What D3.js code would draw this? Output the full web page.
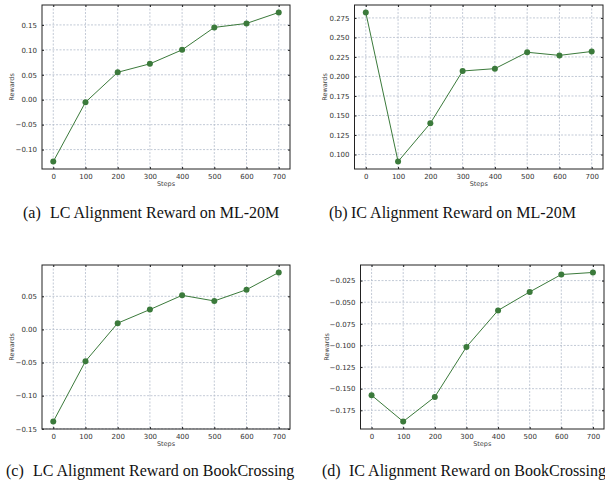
<!DOCTYPE html>
<html><head><meta charset="utf-8">
<script src="https://cdn.jsdelivr.net/npm/d3@7"></script>
<style>body{margin:0;background:#fff}svg{display:block}</style>
</head><body>
<svg id="c" width="605" height="493"></svg>
<script>
const steps = [0, 100, 200, 300, 400, 500, 600, 700];
const lcML = [-0.124, -0.005, 0.055, 0.072, 0.100, 0.145, 0.153, 0.175];
const icML = [0.282, 0.091, 0.140, 0.207, 0.210, 0.231, 0.227, 0.232];
const lcBC = [-0.139, -0.048, 0.0095, 0.030, 0.0515, 0.043, 0.060, 0.086];
const icBC = [-0.1576, -0.188, -0.1595, -0.1017, -0.0595, -0.0381, -0.018, -0.0156];
const xTicks = [0, 100, 200, 300, 400, 500, 600, 700];
const yTicksA = [-0.10, -0.05, 0.00, 0.05, 0.10, 0.15];
const yTicksB = [0.100, 0.125, 0.150, 0.175, 0.200, 0.225, 0.250, 0.275];
const yTicksC = [-0.15, -0.10, -0.05, 0.00, 0.05];
const yTicksD = [-0.175, -0.150, -0.125, -0.100, -0.075, -0.050, -0.025];
const captionLetters = ["(a)", "(b)", "(c)", "(d)"];
const captions = ["LC Alignment Reward on ML-20M", "IC Alignment Reward on ML-20M",
  "LC Alignment Reward on BookCrossing", "IC Alignment Reward on BookCrossing"];

const svg = d3.select("#c");
const green = "#3b7a3b";

const panels = [
  {vals: lcML, ticks: yTicksA, fmt: d3.format(".2f"), box: [42, 5, 290, 169], cap: [23, 50, 218]},
  {vals: icML, ticks: yTicksB, fmt: d3.format(".3f"), box: [354.5, 5, 603, 169], cap: [329, 351, 218]},
  {vals: lcBC, ticks: yTicksC, fmt: d3.format(".2f"), box: [42, 265, 290, 429], cap: [6, 33, 476]},
  {vals: icBC, ticks: yTicksD, fmt: d3.format(".3f"), box: [360.5, 265, 604, 429], cap: [322, 349, 476]}
];

function minus(s){ return s.replace("-", "\u2212"); }

panels.forEach((p, i) => {
  const [x0, y0, x1, y1] = p.box;
  const xr = 700 * 0.05;
  const ymin = d3.min(p.vals), ymax = d3.max(p.vals), ym = (ymax - ymin) * 0.05;
  const x = d3.scaleLinear().domain([-xr, 700 + xr]).range([x0, x1]);
  const y = d3.scaleLinear().domain([ymin - ym, ymax + ym]).range([y1, y0]);
  const g = svg.append("g");

  // grid
  g.selectAll(".gx").data(xTicks).join("line")
    .attr("x1", d => x(d)).attr("x2", d => x(d)).attr("y1", y0).attr("y2", y1)
    .attr("stroke", "#b4bccb").attr("stroke-width", 0.8).attr("stroke-dasharray", "2,1.5");
  g.selectAll(".gy").data(p.ticks).join("line")
    .attr("x1", x0).attr("x2", x1).attr("y1", d => y(d)).attr("y2", d => y(d))
    .attr("stroke", "#b4bccb").attr("stroke-width", 0.8).attr("stroke-dasharray", "2,1.5");

  // axes (inward ticks on all sides)
  const fs = "7px";
  const ax = g.append("g").attr("transform", `translate(0,${y1})`)
    .call(d3.axisBottom(x).tickValues(xTicks).tickSizeInner(-2).tickSizeOuter(0).tickPadding(5));
  const ay = g.append("g").attr("transform", `translate(${x0},0)`)
    .call(d3.axisLeft(y).tickValues(p.ticks).tickFormat(d => minus(p.fmt(d))).tickSizeInner(-2).tickSizeOuter(0).tickPadding(5));
  const at = g.append("g").attr("transform", `translate(0,${y0})`)
    .call(d3.axisTop(x).tickValues(xTicks).tickSizeInner(-2).tickSizeOuter(0).tickFormat(""));
  const ar = g.append("g").attr("transform", `translate(${x1},0)`)
    .call(d3.axisRight(y).tickValues(p.ticks).tickSizeInner(-2).tickSizeOuter(0).tickFormat(""));
  [ax, ay, at, ar].forEach(a => {
    a.select(".domain").remove();
    a.selectAll("line").attr("stroke", "#222").attr("stroke-width", 1);
    a.selectAll("text").attr("font-family", "DejaVu Sans").attr("font-size", fs).attr("fill", "#333");
  });

  // frame
  g.append("rect").attr("x", x0).attr("y", y0).attr("width", x1 - x0).attr("height", y1 - y0)
    .attr("fill", "none").attr("stroke", "#222").attr("stroke-width", 1);

  // labels
  g.append("text").attr("x", (x0 + x1) / 2).attr("y", y1 + 17).attr("text-anchor", "middle")
    .attr("font-family", "DejaVu Sans").attr("font-size", "6.5px").attr("fill", "#444").text("Steps");
  const lx = i % 2 === 0 ? 12 : (i === 1 ? 325 : 327);
  g.append("text").attr("transform", `translate(${lx},${(y0 + y1) / 2}) rotate(-90)`)
    .attr("text-anchor", "middle").attr("dominant-baseline", "middle")
    .attr("font-family", "DejaVu Sans").attr("font-size", "6.5px").attr("fill", "#444").text("Rewards");

  // line + markers
  const data = steps.map((s, k) => [s, p.vals[k]]);
  g.append("path").datum(data)
    .attr("d", d3.line().x(d => x(d[0])).y(d => y(d[1])))
    .attr("fill", "none").attr("stroke", green).attr("stroke-width", 1);
  g.selectAll(".pt").data(data).join("circle")
    .attr("cx", d => x(d[0])).attr("cy", d => y(d[1])).attr("r", 3)
    .attr("fill", green);

  // caption
  g.append("text").attr("x", p.cap[0]).attr("y", p.cap[2])
    .attr("font-family", "Liberation Serif").attr("font-size", "16px").attr("fill", "#111")
    .text(captionLetters[i]);
  g.append("text").attr("x", p.cap[1]).attr("y", p.cap[2])
    .attr("font-family", "Liberation Serif").attr("font-size", "16px").attr("fill", "#111")
    .text(captions[i]);
});
</script>
</body></html>
